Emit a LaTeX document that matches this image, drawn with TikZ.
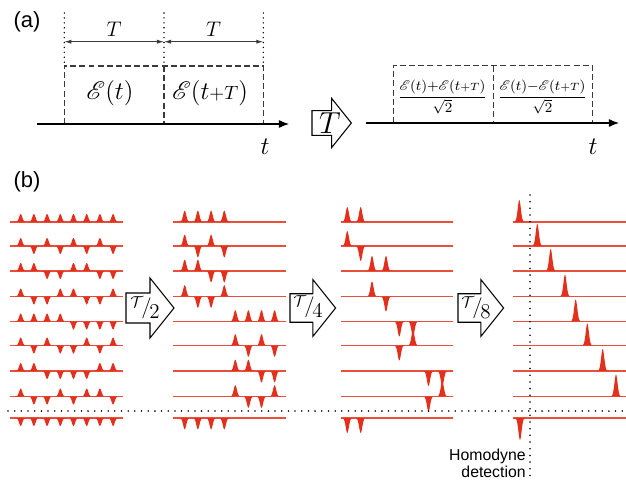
\documentclass[tikz,border=0pt]{standalone}
\usepackage{amsmath}
\usepackage{mathrsfs}
\usepackage{fontspec}
\setmainfont{Liberation Sans}
\usetikzlibrary{arrows.meta}
\definecolor{pulsered}{HTML}{E2301C}
\definecolor{tracered}{HTML}{E8503C}
\definecolor{dimgray}{HTML}{3A3A3A}
\tikzset{
  panellabel/.style={font=\fontsize{12.5}{14}\selectfont, inner sep=0pt},
  fieldtext/.style={font=\fontsize{15}{18}\selectfont, inner sep=0pt},
  fractext/.style={font=\fontsize{8.5}{10}\selectfont, inner sep=0pt},
  axislabel/.style={font=\fontsize{14}{16}\selectfont, inner sep=0pt},
  periodlabel/.style={font=\fontsize{12}{14}\selectfont, inner sep=0pt},
  arrowlabel/.style={font=\fontsize{13}{16}\selectfont, inner sep=0pt},
  detlabel/.style={font=\fontsize{9}{9.8}\selectfont, inner sep=0pt, align=right},
  trace/.style={draw=tracered, line width=0.7pt},
  timeaxis/.style={-{Latex[length=5.8pt,width=4.6pt]}, line width=0.6pt},
  dimarr/.style={{Latex[length=4pt,width=2.4pt]}-{Latex[length=4pt,width=2.4pt]}, dimgray, line width=0.6pt},
  boxline/.style={dimgray, line width=0.7pt, dash pattern=on 3.4pt off 1.8pt},
  dotfine/.style={line width=0.9pt, line cap=round, dash pattern=on 0pt off 2.8pt},
  dotline/.style={line width=1pt, line cap=round, dash pattern=on 0pt off 3.8pt},
  blockarr/.style={draw, fill=white, line width=0.6pt, line join=miter},
}
% x, baseline y, signed height
\newcommand{\pulse}[3]{\fill[pulsered] plot[domain=-6:6, samples=25, smooth] ({#1+(\x)},{#2-(#3)*exp(-((\x)*(\x))/5)}) -- cycle;}
% left x, mid y, scale
\newcommand{\blockarrow}[3]{\draw[blockarr, shift={(#1,#2)}, scale=#3] (0,-15) -- (24,-15) -- (24,-30) -- (48,0) -- (24,30) -- (24,15) -- (0,15) -- cycle;}
\newcommand{\delay}[1]{$\raisebox{0.28em}{$\scriptstyle\mathcal{T}$}\kern-0.08em/\kern-0.1em\raisebox{-0.2em}{$#1$}$}

\begin{document}
\begin{tikzpicture}[x=0.02cm,y=-0.02cm]
\useasboundingbox (0,0) rectangle (626,481);
% (a)
\node[panellabel] (lbla) at (27,22) {(a)};
\foreach \n/\px in {1/64.3, 2/164, 3/263.3} {
  \coordinate (top\n) at (\px,13);
  \coordinate (dim\n) at (\px,41.7);
  \coordinate (box\n) at (\px,66);
  \coordinate (bot\n) at (\px,124);
  \draw[dotfine] (top\n) -- (box\n);
}
\draw[dimarr] (dim1) -- (dim2);
\draw[dimarr] (dim2) -- (dim3);
\node[periodlabel] (per1) at (114,29) {$T$};
\node[periodlabel] (per2) at (213.5,29) {$T$};
\draw[boxline] (bot1) -- (box1) -- (box3) -- (bot3);
\draw[boxline] (box2) -- (bot2);
\coordinate (axl) at (37,124);
\coordinate (axr) at (289,124);
\draw[timeaxis] (axl) -- (axr);
\node[fieldtext] (fld1) at (110,93) {$\mathscr{E}(t)$};
\node[fieldtext] (fld2) at (210,93) {$\mathscr{E}(t{\scriptstyle+T})$};
\node[axislabel] (tleft) at (265,147) {$t$};

\blockarrow{312}{123}{0.82}
\node[arrowlabel, font=\fontsize{17}{20}\selectfont] (shiftT) at (330,123) {$T$};

\foreach \n/\px in {1/393.3, 2/493.3, 3/592.7} {
  \coordinate (rbox\n) at (\px,65.7);
  \coordinate (rbot\n) at (\px,123);
}
\draw[boxline] (rbot1) -- (rbox1) -- (rbox3) -- (rbot3);
\draw[boxline] (rbox2) -- (rbot2);
\coordinate (raxl) at (366,123);
\coordinate (raxr) at (619,123);
\draw[timeaxis] (raxl) -- (raxr);
\node[fractext] (sum) at (442.5,97) {$\dfrac{\mathscr{E}(t){+}\mathscr{E}(t{\scriptstyle+T})}{\sqrt{2}}$};
\node[fractext] (diff) at (542.5,97) {$\dfrac{\mathscr{E}(t){-}\mathscr{E}(t{\scriptstyle+T})}{\sqrt{2}}$};
\node[axislabel] (tright) at (593,147) {$t$};

% (b)
\node[panellabel] (lblb) at (27,182) {(b)};
\foreach \y/\signs in {222/{1,1,1,1,1,1,1,1}, 246/{1,-1,1,-1,1,-1,1,-1}, 271/{1,1,-1,-1,1,1,-1,-1}, 296.5/{1,-1,-1,1,1,-1,-1,1}, 321.5/{1,1,1,1,-1,-1,-1,-1}, 345.5/{1,-1,1,-1,-1,1,-1,1}, 371/{1,1,-1,-1,-1,-1,1,1}, 396.5/{1,-1,-1,1,-1,1,1,-1}, 418/{-1,-1,-1,-1,-1,-1,-1,-1}} {
  \draw[trace] (10,\y) -- (123,\y);
  \foreach \s [count=\k] in \signs {\pulse{20.7+13.2*(\k-1)}{\y}{8*(\s)}}
}
\foreach \y/\signs in {222/{1,1,1,1,0,0,0,0}, 246/{1,-1,1,-1,0,0,0,0}, 271/{1,1,-1,-1,0,0,0,0}, 296.5/{1,-1,-1,1,0,0,0,0}, 321.5/{0,0,0,0,1,1,1,1}, 345.5/{0,0,0,0,1,-1,1,-1}, 371/{0,0,0,0,1,1,-1,-1}, 396.5/{0,0,0,0,1,-1,-1,1}, 418/{-1,-1,-1,-1,0,0,0,0}} {
  \draw[trace] (173,\y) -- (286,\y);
  \foreach \s [count=\k] in \signs {
    \ifnum\s=0\else
      \pgfmathsetmacro\px{{184.7,197.9,211.1,224.3,235.3,248.4,261.5,274.6}[\k-1]}
      \pulse{\px}{\y}{11.3*(\s)}
    \fi}
}
\foreach \y/\signs in {222/{1,1,0,0,0,0,0,0}, 246/{1,-1,0,0,0,0,0,0}, 271/{0,0,1,1,0,0,0,0}, 296.5/{0,0,1,-1,0,0,0,0}, 321.5/{0,0,0,0,-1,-1,0,0}, 345.5/{0,0,0,0,-1,1,0,0}, 371/{0,0,0,0,0,0,-1,-1}, 396.5/{0,0,0,0,0,0,-1,1}, 418/{-1,-1,0,0,0,0,0,0}} {
  \draw[trace] (341,\y) -- (453,\y);
  \foreach \s [count=\k] in \signs {
    \ifnum\s=0\else
      \pgfmathsetmacro\px{{347.3,360.7,372,386,399.3,413,428.5,442.3}[\k-1]}
      \pulse{\px}{\y}{15*(\s)}
    \fi}
}
\foreach \y/\px/\s in {222/519.3/1, 246/537.3/1, 271/550.7/1, 296.5/565/1, 321.5/575.7/1, 345.5/587.3/1, 371/602.7/1, 396.5/616/1, 418/520/-1} {
  \draw[trace] (513,\y) -- (626,\y);
  \pulse{\px}{\y}{22*(\s)}
}

\blockarrow{126}{308}{1}
\node[arrowlabel] (half) at (145,308) {\delay{2}};
\blockarrow{290}{308}{0.95}
\node[arrowlabel] (quarter) at (308,307) {\delay{4}};
\blockarrow{458}{308}{0.95}
\node[arrowlabel] (eighth) at (476,308) {\delay{8}};

\coordinate (hl) at (8,411);
\coordinate (hr) at (626,411);
\draw[dotline] (hl) -- (hr);
\coordinate (vt) at (530,195);
\coordinate (vb) at (530,477);
\draw[dotline] (vt) -- (vb);
\node[detlabel, anchor=east] (homodyne) at (526,463) {Homodyne\\detection};
\end{tikzpicture}
\end{document}
